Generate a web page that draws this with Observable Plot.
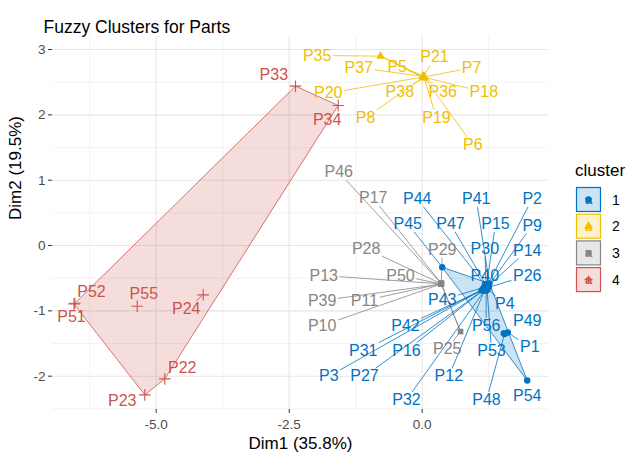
<!DOCTYPE html>
<html><head><meta charset="utf-8">
<script src="https://cdn.jsdelivr.net/npm/d3@7"></script>
<script src="https://cdn.jsdelivr.net/npm/@observablehq/plot@0.6"></script>
<style>
body{margin:0;background:#fff;font-family:"Liberation Sans",Arial,sans-serif}
#wrap{position:relative;width:628px;height:459px;overflow:hidden}
#legend{position:absolute;left:556px;top:158px}
</style></head><body><div id="wrap"></div><script>
// ---- data ----
const ids = ["P1","P2","P3","P4","P9","P12","P14","P15","P16","P26","P27","P30","P31","P32","P40","P41","P42","P43","P44","P45","P47","P48","P49","P53","P54","P56",
  "P5","P6","P7","P8","P18","P19","P20","P21","P35","P36","P37","P38",
  "P10","P11","P13","P17","P25","P28","P29","P39","P46","P50",
  "P22","P23","P24","P33","P34","P51","P52","P55"];
const cluster = [1,1,1,1,1,1,1,1,1,1,1,1,1,1,1,1,1,1,1,1,1,1,1,1,1,1,
  2,2,2,2,2,2,2,2,2,2,2,2,
  3,3,3,3,3,3,3,3,3,3,
  4,4,4,4,4,4,4,4];
const dim1 = [1.609,1.22,1.16,1.21,1.23,1.18,1.24,1.21,1.17,1.25,1.15,1.20,1.14,1.17,1.19,1.265,1.115,1.16,1.18,0.376,1.19,1.547,1.534,1.22,1.974,1.20,
  0.02,0.04,0.035,0.025,0.04,0.035,0.02,0.03,-0.784,0.035,0.015,0.025,
  0.357,0.36,0.355,0.358,0.720,0.356,0.36,0.357,0.355,0.358,
  -4.838,-5.214,-4.117,-2.381,-1.579,-6.545,-6.530,-5.357];
const dim2 = [-1.332,-0.62,-0.66,-0.65,-0.63,-0.67,-0.62,-0.61,-0.67,-0.64,-0.68,-0.60,-0.67,-0.69,-0.62,-0.582,-0.689,-0.64,-0.60,-0.332,-0.59,-1.355,-1.343,-0.68,-2.067,-0.69,
  2.59,2.57,2.58,2.575,2.575,2.57,2.58,2.585,2.899,2.575,2.59,2.57,
  -0.59,-0.585,-0.587,-0.58,-1.317,-0.583,-0.578,-0.592,-0.578,-0.588,
  -2.041,-2.286,-0.755,2.44,2.144,-0.896,-0.884,-0.930];
// repelled label positions (data units)
const labelDim1 = [2.023,2.068,-1.756,1.553,2.068,0.500,1.974,1.378,-0.295,1.974,-1.085,1.177,-1.109,-0.295,1.177,1.015,-0.314,0.376,-0.094,-0.271,0.532,1.209,1.974,1.303,1.974,1.203,
  -0.470,0.951,0.927,-1.066,1.158,0.269,-1.767,0.231,-1.974,0.387,-1.192,-0.421,
  -1.880,-1.085,-1.850,-0.921,0.470,-1.053,0.376,-1.880,-1.568,-0.408,
  -4.511,-5.639,-4.436,-2.789,-1.786,-6.592,-6.216,-5.233];
const labelDim2 = [-1.557,0.715,-2.002,-0.893,0.306,-2.002,-0.077,0.332,-1.608,-0.459,-2.002,-0.051,-1.608,-2.363,-0.459,0.715,-1.225,-0.832,0.715,0.332,0.332,-2.363,-1.159,-1.608,-2.297,-1.225,
  2.741,1.542,2.721,1.956,2.348,1.956,2.332,2.884,2.910,2.348,2.721,2.348,
  -1.225,-0.842,-0.459,0.724,-1.582,-0.051,-0.066,-0.842,1.123,-0.459,
  -1.873,-2.384,-0.969,2.619,1.925,-1.087,-0.715,-0.740];
const clusterNames = ["1","2","3","4"];
const clusterColors = ["#0073C2","#EFC000","#868686","#CD534C"];
const clusterSymbols = ["circle","triangle","square","plus"];
const xTicks = [-5,-2.5,0];
const xMinor = [-6.25,-3.75,-1.25,1.25];
const yTicks = [-2,-1,0,1,2,3];
const yMinor = [-2.5,-1.5,-0.5,0.5,1.5,2.5];
const title = "Fuzzy Clusters for Parts";
const xTitle = "Dim1 (35.8%)";
const yTitle = "Dim2 (19.5%)";

// ---- layout ----
const W = 628, H = 459, mL = 52, mR = 80, mT = 36, mB = 50;
const xDomain = [-6.949, 2.374], yDomain = [-2.51, 3.2];
const font = '"Liberation Sans", Arial, sans-serif';
const col = c => clusterColors[c - 1];

const pts = ids.map((id, i) => ({id, c: cluster[i], x: dim1[i], y: dim2[i], lx: labelDim1[i], ly: labelDim2[i]}));

// segment geometry (ggrepel-like) computed with the same linear mapping Plot uses
const xs = d3.scaleLinear().domain(xDomain).range([mL, W - mR]);
const ys = d3.scaleLinear().domain(yDomain).range([H - mB, mT]);
const ctx = document.createElement("canvas").getContext("2d");
ctx.font = "16px " + font;
const segs = [];
for (const p of pts) {
  const cx = xs(p.lx), cy = ys(p.ly), px = xs(p.x), py = ys(p.y);
  const w = ctx.measureText(p.id).width / 2 + 1.5, h = 8;
  const dx = px - cx, dy = py - cy;
  if (Math.abs(dx) <= w && Math.abs(dy) <= h) continue;
  const t = Math.min(dx === 0 ? Infinity : w / Math.abs(dx), dy === 0 ? Infinity : h / Math.abs(dy));
  const len = Math.hypot(dx, dy);
  const rem = len * (1 - t);
  if (rem < 9) continue;
  const sx = cx + t * dx, sy = cy + t * dy;
  const ex = px - dx / len * 1.5, ey = py - dy / len * 1.5;
  segs.push({c: p.c, x1: xs.invert(sx), y1: ys.invert(sy), x2: xs.invert(ex), y2: ys.invert(ey)});
}

const chart = Plot.plot({
  width: W, height: H,
  marginLeft: mL, marginRight: mR, marginTop: mT, marginBottom: mB,
  style: {fontFamily: font, background: "#fff", overflow: "visible"},
  x: {domain: xDomain, label: null},
  y: {domain: yDomain, label: null},
  marks: [
    Plot.ruleX(xMinor, {stroke: "#ebebeb", strokeWidth: 0.6}),
    Plot.ruleY(yMinor, {stroke: "#ebebeb", strokeWidth: 0.6}),
    Plot.ruleX(xTicks, {stroke: "#e6e6e6", strokeWidth: 1.1}),
    Plot.ruleY(yTicks, {stroke: "#e6e6e6", strokeWidth: 1.1}),
    Plot.hull(pts, {x: "x", y: "y", z: "c", fill: d => col(d.c), fillOpacity: 0.2, stroke: d => col(d.c), strokeWidth: 0.8}),
    Plot.link(segs, {x1: "x1", y1: "y1", x2: "x2", y2: "y2", stroke: d => col(d.c), strokeWidth: 0.8}),
    Plot.dot(pts.filter(d => d.c !== 4), {x: "x", y: "y", r: 3.2, symbol: d => clusterSymbols[d.c - 1], fill: d => col(d.c), stroke: "none"}),
    Plot.dot(pts.filter(d => d.c === 4), {x: "x", y: "y", r: 3.8, symbol: "plus", stroke: d => col(d.c), strokeWidth: 1.1, fill: "none"}),
    Plot.text(pts, {x: "lx", y: "ly", text: "id", fill: d => col(d.c), fontSize: 16}),
    Plot.axisX({ticks: xTicks, tickFormat: d => d.toFixed(1).replace("\u2212", "-"), tickSize: 4, tickPadding: 6, fontSize: 13.5, stroke: "#333", fill: "#4d4d4d", label: null}),
    Plot.axisY({ticks: yTicks, tickFormat: d => String(d), tickSize: 4, tickPadding: 3, fontSize: 13.5, stroke: "#333", fill: "#4d4d4d", label: null}),
    Plot.text([title], {frameAnchor: "top-left", dx: -9, dy: -16, textAnchor: "start", fontSize: 17.5, fill: "#000"}),
    Plot.text([xTitle], {frameAnchor: "bottom", dy: 39, fontSize: 17, fill: "#000"}),
    Plot.text([yTitle], {frameAnchor: "left", dx: -37, dy: -3, rotate: -90, fontSize: 17, fill: "#000"})
  ]
});
const wrap = document.getElementById("wrap");
wrap.appendChild(chart);

// legend
const lg = d3.select(wrap).append("svg").attr("id", "legend").attr("width", 72).attr("height", 140)
  .style("font-family", font);
lg.append("text").attr("x", 19).attr("y", 18).attr("font-size", 17).attr("fill", "#000").text("cluster");
clusterNames.forEach((name, i) => {
  const y0 = 29 + i * 26.7, c = clusterColors[i];
  const g = lg.append("g").attr("transform", `translate(20,${y0})`);
  g.append("rect").attr("x", 0).attr("y", 0).attr("width", 25).attr("height", 25).attr("fill", "#fff");
  g.append("rect").attr("x", 0.5).attr("y", 0.5).attr("width", 24).attr("height", 24)
    .attr("fill", c).attr("fill-opacity", 0.2).attr("stroke", c).attr("stroke-width", 1.2);
  const sym = d3.symbol().type([d3.symbolCircle, d3.symbolTriangle, d3.symbolSquare, d3.symbolCross][i]).size(34)();
  if (i === 3) {
    g.append("path").attr("d", "M12.5,8.5V16.5M8.5,12.5H16.5").attr("stroke", c).attr("stroke-width", 1.1).attr("fill", "none");
  } else {
    g.append("path").attr("d", sym).attr("transform", "translate(12.5,12.5)").attr("fill", c);
  }
  g.append("text").attr("x", 12.5).attr("y", 17).attr("text-anchor", "middle").attr("font-size", 13).attr("font-weight", "bold").attr("fill", c).text("a");
  lg.append("text").attr("x", 56).attr("y", y0 + 17.5).attr("font-size", 14).attr("fill", "#000").text(name);
});
</script></body></html>
